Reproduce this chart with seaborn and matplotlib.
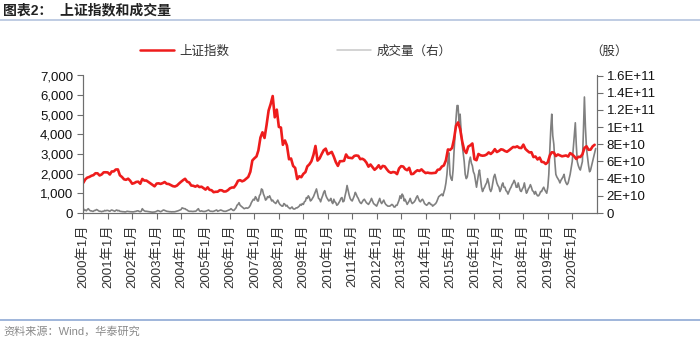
import matplotlib
matplotlib.use("Agg")
import matplotlib.pyplot as plt
from matplotlib.lines import Line2D
from matplotlib.ticker import FixedLocator, FixedFormatter
import seaborn as sns
import pandas as pd
import numpy as np

# ---------------- data ----------------
start_month = "2000-01-01"

# Shanghai Composite, start of each month
sse_index = [
    # 2000
    1535, 1715, 1800, 1836, 1894, 1928, 2023, 2021, 1911, 1961, 2070, 2073,
    # 2001
    2065, 1960, 2113, 2119, 2214, 2218, 1920, 1834, 1715, 1690, 1748, 1646,
    # 2002
    1491, 1525, 1580, 1595, 1489, 1733, 1651, 1652, 1581, 1507, 1434, 1358,
    # 2003
    1499, 1510, 1481, 1521, 1576, 1487, 1476, 1421, 1367, 1348, 1397, 1497,
    # 2004
    1590, 1675, 1742, 1595, 1555, 1399, 1386, 1342, 1396, 1320, 1340, 1266,
    # 2005
    1191, 1306, 1181, 1159, 1060, 1080, 1083, 1162, 1155, 1092, 1099, 1161,
    # 2006
    1258, 1299, 1298, 1440, 1641, 1672, 1612, 1658, 1752, 1837, 2099, 2675,
    # 2007
    2786, 2881, 3183, 3841, 4109, 3820, 4471, 5218, 5552, 5954, 4871, 5262,
    # 2008
    4383, 4348, 3473, 3693, 3433, 2736, 2776, 2397, 2293, 1729, 1871, 1821,
    # 2009
    1991, 2082, 2373, 2477, 2632, 2959, 3412, 2667, 2779, 2996, 3195, 3277,
    # 2010
    2989, 3051, 3110, 2870, 2592, 2398, 2638, 2639, 2656, 2979, 2820, 2808,
    # 2011
    2791, 2905, 2928, 2911, 2743, 2762, 2701, 2567, 2359, 2468, 2333, 2199,
    # 2012
    2292, 2428, 2262, 2397, 2373, 2225, 2103, 2047, 2086, 2069, 1980, 2269,
    # 2013
    2385, 2365, 2237, 2178, 2301, 1979, 1993, 2098, 2175, 2141, 2220, 2116,
    # 2014
    2033, 2056, 2033, 2026, 2039, 2048, 2201, 2217, 2364, 2420, 2683, 3235,
    # 2015
    3210, 3310, 3748, 4441, 4612, 4277, 3664, 3206, 3053, 3383, 3445, 3539,
    # 2016
    2738, 2688, 3004, 2938, 2917, 2930, 2979, 3085, 3005, 3100, 3250, 3104,
    # 2017
    3159, 3242, 3223, 3155, 3117, 3192, 3273, 3361, 3349, 3393, 3317, 3307,
    # 2018
    3481, 3259, 3169, 3082, 3095, 2847, 2876, 2725, 2821, 2603, 2588, 2494,
    # 2019
    2585, 2941, 3091, 3078, 2899, 2979, 2933, 2886, 2905, 2929, 2871, 3050,
    # 2020
    2977, 2880, 2750, 2860, 2852, 2985, 3310, 3396, 3218, 3225, 3392, 3473,
]

# daily turnover (shares, units of 1e9), start of each month
volume_bn = [
    # 2000
    5.5, 3.5, 4.0, 3.5, 2.5, 2.0, 3.0, 3.5, 2.0, 1.5, 2.0, 2.5,
    # 2001
    3.0, 2.0, 3.5, 2.5, 3.0, 2.5, 2.0, 1.5, 1.5, 1.5, 1.8, 1.5,
    # 2002
    1.2, 1.5, 2.0, 2.5, 1.5, 5.0, 2.5, 2.0, 1.5, 1.2, 1.0, 1.2,
    # 2003
    2.0, 2.5, 1.5, 3.0, 3.0, 2.0, 1.5, 1.5, 1.5, 1.5, 2.0, 3.0,
    # 2004
    4.0, 5.5, 5.0, 3.5, 2.0, 2.0, 1.8, 2.0, 4.0, 2.5, 2.5, 1.8,
    # 2005
    2.0, 3.0, 2.5, 2.0, 2.0, 3.0, 2.0, 3.0, 3.0, 2.0, 2.0, 3.0,
    # 2006
    4, 4, 3, 6, 10, 9, 7, 5, 6, 6, 9, 14,
    # 2007
    15, 17, 14, 22, 27, 19, 16, 18, 17, 15, 12, 13,
    # 2008
    12, 9, 8, 10, 9, 6, 6, 5, 5, 6, 8, 9,
    # 2009
    10, 14, 17, 18, 15, 19, 25, 22, 16, 17, 24, 21,
    # 2010
    16, 15, 13, 16, 12, 10, 14, 18, 14, 25, 26, 17,
    # 2011
    14, 20, 22, 17, 12, 13, 16, 12, 10, 14, 14, 10,
    # 2012
    8, 14, 13, 13, 12, 9, 8, 9, 9, 7, 9, 15,
    # 2013
    17, 20, 16, 10, 14, 13, 12, 15, 20, 14, 15, 14,
    # 2014
    10, 10, 12, 10, 9, 11, 16, 20, 22, 24, 35, 60,
    # 2015
    45, 38, 70, 110, 125, 115, 80, 60, 40, 50, 65, 55,
    # 2016
    45, 30, 45, 40, 25, 30, 35, 35, 25, 35, 45, 35,
    # 2017
    30, 28, 35, 30, 25, 25, 30, 35, 35, 30, 30, 25,
    # 2018
    30, 28, 25, 30, 30, 25, 25, 20, 22, 25, 30, 25,
    # 2019
    30, 75, 115, 80, 45, 40, 35, 40, 45, 35, 35, 45,
    # 2020
    60, 90, 80, 55, 50, 60, 135, 75, 55, 50, 60, 70,
]

# daily turnover (shares, units of 1e9), middle of each month
volume_mid_bn = [
    # 2000
    3, 2.5, 5, 2.5, 2, 3, 4, 2.5, 2, 2, 3, 3,
    # 2001
    2.5, 3, 3, 2, 3.5, 3, 1.8, 1.5, 1.2, 2, 1.6, 1.4,
    # 2002
    1.3, 1.8, 2.5, 1.8, 2, 3.5, 2, 1.8, 1.3, 1.1, 1.1, 1.5,
    # 2003
    2.8, 2, 2, 3.5, 2.5, 1.8, 1.5, 1.3, 1.4, 1.8, 2.5, 3.5,
    # 2004
    6, 5, 4, 2.5, 2, 1.8, 2, 2.5, 5, 2, 2, 1.8,
    # 2005
    2.5, 3.5, 2, 1.8, 2.5, 3.5, 2.5, 3.5, 2.5, 2, 2.5, 3.5,
    # 2006
    5, 3, 4.5, 9, 12, 8, 6, 5.5, 5.5, 7, 12, 16,
    # 2007
    19, 14, 20, 28, 22, 15, 19, 20, 14, 13, 11, 15,
    # 2008
    10, 8, 11, 8, 7, 5, 7, 4.5, 6, 7, 10, 11,
    # 2009
    13, 18, 20, 14, 17, 22, 28, 17, 13, 20, 26, 18,
    # 2010
    14, 17, 11, 13, 9, 12, 17, 13, 20, 32, 21, 15,
    # 2011
    17, 24, 19, 14, 11, 15, 14, 11, 12, 17, 11, 9,
    # 2012
    11, 17, 11, 15, 10, 8, 8, 10, 7, 9, 12, 20,
    # 2013
    22, 14, 13, 12, 17, 11, 13, 18, 17, 13, 16, 11,
    # 2014
    9, 12, 10, 8, 10, 13, 19, 21, 20, 28, 45, 70,
    # 2015
    40, 50, 90, 125, 105, 95, 70, 45, 42, 60, 58, 48,
    # 2016
    38, 38, 50, 30, 28, 33, 40, 28, 28, 42, 40, 32,
    # 2017
    25, 33, 30, 26, 22, 28, 33, 38, 30, 35, 26, 28,
    # 2018
    35, 23, 28, 33, 26, 22, 22, 20, 25, 28, 27, 23,
    # 2019
    45, 100, 90, 60, 42, 38, 38, 42, 38, 33, 40, 52,
    # 2020
    75, 105, 60, 52, 55, 95, 100, 65, 48, 55, 65, 75,
]

left_ticks = [0, 1000, 2000, 3000, 4000, 5000, 6000, 7000]
left_tick_labels = ["0", "1,000", "2,000", "3,000", "4,000", "5,000", "6,000", "7,000"]
right_ticks = [0, 2e10, 4e10, 6e10, 8e10, 1e11, 1.2e11, 1.4e11, 1.6e11]
right_tick_labels = ["0", "2E+10", "4E+10", "6E+10", "8E+10", "1E+11",
                     "1.2E+11", "1.4E+11", "1.6E+11"]
tick_years = list(range(2000, 2021))
x_tick_labels = [f"{y}年1月" for y in tick_years]

title_text = "图表2：  上证指数和成交量"
legend_labels = ["上证指数", "成交量（右）"]
unit_text = "（股）"
source_text = "资料来源：Wind，华泰研究"

# ---------------- frames ----------------
dates = pd.date_range(start_month, periods=len(sse_index), freq="MS")
df_idx = pd.DataFrame({"date": dates, "index": sse_index})

vol_dates = list(dates) + list(dates + pd.Timedelta(days=15))
vol_vals = list(np.array(volume_bn) * 1e9) + list(np.array(volume_mid_bn) * 1e9)
df_vol = pd.DataFrame({"date": vol_dates, "volume": vol_vals}).sort_values("date")

sns.set_theme(style="white")
FONT = ["Liberation Sans", "Noto Sans CJK SC", "DejaVu Sans"]
plt.rcParams["font.family"] = FONT

W, H = 700, 340
fig = plt.figure(figsize=(W / 100, H / 100), dpi=100)
ax = fig.add_axes([83 / W, 1 - 213 / H, (597 - 83) / W, (213 - 75.5) / H])
ax2 = ax.twinx()

RED = "#ee1c1c"
GREY = "#808080"

sns.lineplot(data=df_vol, x="date", y="volume", ax=ax2, color=GREY, linewidth=1.2)
sns.lineplot(data=df_idx, x="date", y="index", ax=ax, color=RED, linewidth=1.9)

# draw red above grey
ax.set_zorder(ax2.get_zorder() + 1)
ax.patch.set_visible(False)

ax.set_xlim(pd.Timestamp("1999-12-28"), pd.Timestamp("2021-01-05"))
ax.set_ylim(0, 7000)
ax2.set_ylim(0, 1.6e11)

spine_col = "#6e6e6e"
for a in (ax, ax2):
    a.set_xlabel("")
    a.set_ylabel("")
    a.grid(False)
    for s in a.spines.values():
        s.set_color(spine_col)
        s.set_linewidth(0.8)
    a.spines["top"].set_visible(False)

ax.yaxis.set_major_locator(FixedLocator(left_ticks))
ax.yaxis.set_major_formatter(FixedFormatter(left_tick_labels))
ax2.yaxis.set_major_locator(FixedLocator(right_ticks))
ax2.yaxis.set_major_formatter(FixedFormatter(right_tick_labels))

xt = [pd.Timestamp(f"{y}-01-01") for y in tick_years]
ax.set_xticks(xt)
ax.set_xticklabels(x_tick_labels, rotation=90, fontsize=9.5, color="#333333")

ax.tick_params(axis="y", direction="out", length=4, width=0.8, color=spine_col,
               labelsize=9.5, labelcolor="#111111", pad=3, left=True)
ax2.tick_params(axis="y", direction="out", length=4, width=0.8, color=spine_col,
                labelsize=9.5, labelcolor="#111111", pad=3, right=True)
ax.tick_params(axis="x", direction="out", length=4, width=0.8, color=spine_col,
               pad=4, bottom=True)

# ---------------- legend & texts ----------------
handles = [Line2D([], [], color=RED, linewidth=1.8),
           Line2D([], [], color="#c8c8c8", linewidth=1.1)]
fig.legend(handles, legend_labels, loc="center left",
           bbox_to_anchor=(140 / W, 1 - 51 / H), ncol=2, frameon=False,
           borderpad=0, borderaxespad=0, handlelength=2.7, handletextpad=0.45,
           columnspacing=8.6, prop={"family": ["Noto Sans CJK SC"], "size": 9},
           labelcolor="#333333")
fig.text(590 / W, 1 - 51 / H, unit_text, ha="left", va="center", fontsize=9,
         color="#333333", family=["Noto Sans CJK SC"])

fig.text(3 / W, 1 - 10 / H, title_text, ha="left", va="center", fontsize=10,
         fontweight="bold", color="#222222", family=FONT)
fig.add_artist(Line2D([0, 1], [1 - 19.5 / H, 1 - 19.5 / H], transform=fig.transFigure,
                      color="#b4c4de", linewidth=1.2))
fig.add_artist(Line2D([0, 1], [1 - 320 / H, 1 - 320 / H], transform=fig.transFigure,
                      color="#8fa9d4", linewidth=1.2))
fig.text(3 / W, 1 - 331 / H, source_text, ha="left", va="center", fontsize=8,
         color="#8a8a8a", family=FONT)

fig.savefig("out.png", dpi=100)
